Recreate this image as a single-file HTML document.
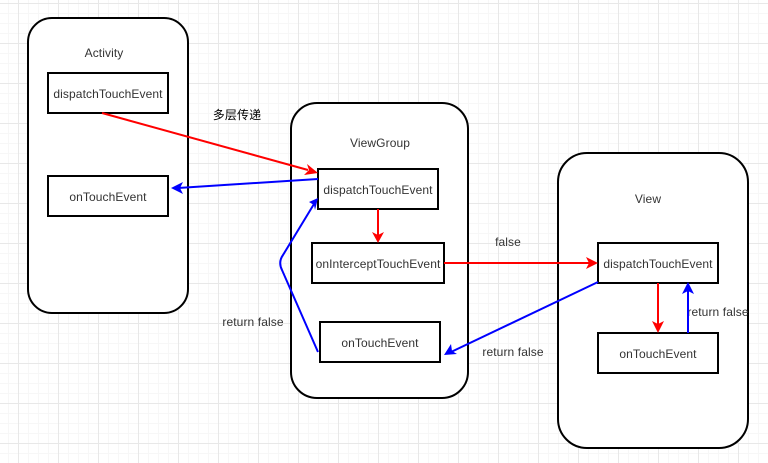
<!DOCTYPE html>
<html>
<head>
<meta charset="utf-8">
<style>
html,body{margin:0;padding:0;background:#fff;width:768px;height:463px;overflow:hidden}
svg{display:block}
text{font-family:"Liberation Sans","Noto Sans CJK SC",sans-serif;font-size:12px;fill:#333;text-anchor:middle;letter-spacing:.1px}
</style>
</head>
<body>
<svg width="768" height="463" viewBox="0 0 768 463" xmlns="http://www.w3.org/2000/svg">
<defs>
<pattern id="g" width="40" height="40" patternUnits="userSpaceOnUse" x="18" y="3">
<path d="M0 10.5H40M0 20.5H40M0 30.5H40M10.5 0V40M20.5 0V40M30.5 0V40" stroke="#f7f7f7" stroke-width="1" fill="none"/>
<path d="M0 .5H40M.5 0V40" stroke="#e8e8e8" stroke-width="1" fill="none"/>
</pattern>
</defs>
<rect width="768" height="463" fill="url(#g)"/>
<g fill="#fff" stroke="#000" stroke-width="2">
<rect x="28" y="18" width="160" height="295" rx="24" ry="24"/>
<rect x="291" y="103" width="177" height="295" rx="26" ry="26"/>
<rect x="558" y="153" width="190" height="295" rx="29" ry="29"/>
<rect x="48" y="73" width="120" height="40"/>
<rect x="48" y="176" width="120" height="40"/>
<rect x="318" y="169" width="120" height="40"/>
<rect x="312" y="243" width="132" height="40"/>
<rect x="320" y="322" width="120" height="40"/>
<rect x="598" y="243" width="120" height="40"/>
<rect x="598" y="333" width="120" height="40"/>
</g>
<text x="104" y="57">Activity</text>
<text x="108" y="98">dispatchTouchEvent</text>
<text x="108" y="201">onTouchEvent</text>
<text x="380" y="147">ViewGroup</text>
<text x="378" y="194">dispatchTouchEvent</text>
<text x="378" y="268">onInterceptTouchEvent</text>
<text x="380" y="347">onTouchEvent</text>
<text x="648" y="203">View</text>
<text x="658" y="268">dispatchTouchEvent</text>
<text x="658" y="358">onTouchEvent</text>
<text x="237" y="119" style="fill:#000">多层传递</text>
<text x="508" y="246">false</text>
<text x="253" y="326">return false</text>
<text x="513" y="356">return false</text>
<text x="718" y="316">return false</text>
<g fill="none" stroke-width="2">
<path d="M102 113L308 170" stroke="#f00"/>
<path d="M378 209V238" stroke="#f00"/>
<path d="M444 263H590" stroke="#f00"/>
<path d="M658 283V325" stroke="#f00"/>
<path d="M318 179L178 188" stroke="#00f"/>
<path d="M318 352L282 270Q278 262 283 255L314 204" stroke="#00f"/>
<path d="M598 282L451 352" stroke="#00f"/>
<path d="M688 333V291" stroke="#00f"/>
</g>
<g fill="#f00">
<path d="M318 173L307 164L309 170L304 175Z"/>
<path d="M378 243L372 232L378 235L384 232Z"/>
<path d="M598 263L586 257L589 263L586 269Z"/>
<path d="M658 333L652 321L658 324L664 321Z"/>
</g>
<g fill="#00f">
<path d="M171 188L183 182L180 188L183 194Z"/>
<path d="M318 198L309 202L314 205L315 210Z"/>
<path d="M444 355L457 354L452 351L451 344Z"/>
<path d="M688 282L682 294L688 291L694 294Z"/>
</g>
</svg>
</body>
</html>
